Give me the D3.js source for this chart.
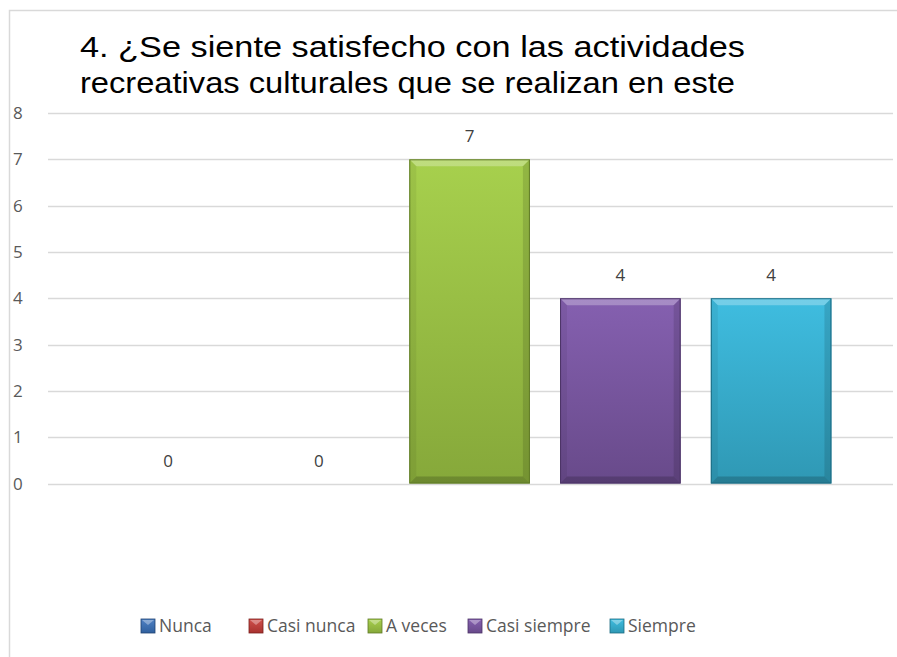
<!DOCTYPE html>
<html>
<head>
<meta charset="utf-8">
<script src="https://cdn.jsdelivr.net/npm/d3@7"></script>
<style>
  body { margin: 0; background: #fff; }
  svg { display: block; }
</style>
</head>
<body>
<div id="chart"></div>
<script>
const categories = ["Nunca", "Casi nunca", "A veces", "Casi siempre", "Siempre"];
const values = [0, 0, 7, 4, 4];
const yTicks = [0, 1, 2, 3, 4, 5, 6, 7, 8];
const titleLines = [
  "4. ¿Se siente satisfecho con las actividades",
  "recreativas culturales que se realizan en este"
];
// light / dark / edge per category
const palette = [
  { top: "#4f81c4", bottom: "#30609e", edge: "#1f4272" },
  { top: "#d0504c", bottom: "#a8322f", edge: "#7a1f1d" },
  { top: "#a7d04d", bottom: "#86a83a", edge: "#5f7a26" },
  { top: "#8560b0", bottom: "#684a8a", edge: "#4b3366" },
  { top: "#3fbde0", bottom: "#2f98b4", edge: "#1d6b82" }
];

const width = 897, height = 657;
const margin = { top: 113, bottom: 174 };
const gridLeft = 48, gridRight = 893;
const labelFont = "'Open Sans', 'Noto Sans', sans-serif";

const svg = d3.select("#chart").append("svg")
  .attr("width", width).attr("height", height);

const defs = svg.append("defs");
palette.forEach((p, i) => {
  const g = defs.append("linearGradient")
    .attr("id", "grad" + i).attr("x1", 0).attr("y1", 0).attr("x2", 0).attr("y2", 1);
  g.append("stop").attr("offset", "0%").attr("stop-color", p.top);
  g.append("stop").attr("offset", "100%").attr("stop-color", p.bottom);
});

// chart frame (only left and top edges fall inside the picture)
svg.append("path")
  .attr("d", `M9.5,${height} V10.5 H${width}`)
  .attr("fill", "none").attr("stroke", "#d9d9d9").attr("stroke-width", 1.5);

const x = d3.scaleBand()
  .domain(categories)
  .range([92.7, 846.5])
  .paddingInner(0.2).paddingOuter(0.1);

const y = d3.scaleLinear()
  .domain([0, 8])
  .range([height - margin.bottom + 0.5, margin.top]);

// gridlines
svg.append("g").selectAll("line").data(yTicks).join("line")
  .attr("x1", gridLeft).attr("x2", gridRight)
  .attr("y1", d => Math.round(y(d)) + 0.5).attr("y2", d => Math.round(y(d)) + 0.5)
  .attr("stroke", "#d9d9d9").attr("stroke-width", 1.3);

// y tick labels
svg.append("g").selectAll("text").data(yTicks).join("text")
  .attr("x", 13).attr("y", d => y(d))
  .attr("dy", "0.36em")
  .attr("font-family", labelFont)
  .attr("font-size", 17).attr("fill", "#595959")
  .text(d => d);

// bars with bevel
const bev = 7;
const bars = svg.append("g").selectAll("g").data(categories).join("g")
  .attr("transform", d => `translate(${x(d)},0)`);

bars.each(function (d, i) {
  const v = values[i];
  if (v <= 0) return;
  const g = d3.select(this);
  const w = x.bandwidth();
  const y0 = y(v), y1 = y(0);
  const h = y1 - y0;
  const p = palette[i];
  g.append("rect").attr("x", 0).attr("y", y0).attr("width", w).attr("height", h)
    .attr("fill", `url(#grad${i})`);
  g.append("path") // top bevel
    .attr("d", `M0,${y0} L${w},${y0} L${w - bev},${y0 + bev} L${bev},${y0 + bev} Z`)
    .attr("fill", "#ffffff").attr("fill-opacity", 0.28);
  g.append("path") // left bevel
    .attr("d", `M0,${y0} L${bev},${y0 + bev} L${bev},${y1 - bev} L0,${y1} Z`)
    .attr("fill", "#000000").attr("fill-opacity", 0.06);
  g.append("path") // right bevel
    .attr("d", `M${w},${y0} L${w - bev},${y0 + bev} L${w - bev},${y1 - bev} L${w},${y1} Z`)
    .attr("fill", "#000000").attr("fill-opacity", 0.12);
  g.append("path") // bottom bevel
    .attr("d", `M0,${y1} L${bev},${y1 - bev} L${w - bev},${y1 - bev} L${w},${y1} Z`)
    .attr("fill", "#000000").attr("fill-opacity", 0.18);
  g.append("rect").attr("x", 0.5).attr("y", y0 + 0.5).attr("width", w - 1).attr("height", h - 1)
    .attr("fill", "none").attr("stroke", p.edge).attr("stroke-width", 1);
});

// value labels
svg.append("g").selectAll("text").data(categories).join("text")
  .attr("x", d => x(d) + x.bandwidth() / 2)
  .attr("y", (d, i) => y(values[i]) - 17)
  .attr("text-anchor", "middle")
  .attr("font-family", labelFont)
  .attr("font-size", 17).attr("fill", "#404040")
  .text((d, i) => values[i]);

// title (the source is slightly stretched sideways)
const titleWidths = [665, 655];
svg.append("g").selectAll("text").data(titleLines).join("text")
  .attr("x", 80).attr("y", (d, i) => 57 + i * 36)
  .attr("font-family", "'Liberation Sans', Arial, sans-serif")
  .attr("font-size", 29).attr("fill", "#000")
  .attr("textLength", (d, i) => titleWidths[i])
  .attr("lengthAdjust", "spacingAndGlyphs")
  .text(d => d);

// legend
const legendX = [141, 249, 368, 468, 610];
const legend = svg.append("g").selectAll("g").data(categories).join("g")
  .attr("transform", (d, i) => `translate(${legendX[i]},619)`);
legend.append("rect").attr("width", 14).attr("height", 14)
  .attr("fill", (d, i) => `url(#grad${i})`)
  .attr("stroke", (d, i) => palette[i].edge).attr("stroke-width", 0.8);
legend.append("path").attr("d", "M1,1 L13,1 L7,6 Z")
  .attr("fill", "#fff").attr("fill-opacity", 0.35);
legend.append("text")
  .attr("x", 18).attr("y", 7).attr("dy", "0.36em")
  .attr("font-family", labelFont)
  .attr("font-size", 17.5).attr("fill", "#595959")
  .text(d => d);
</script>
</body>
</html>
